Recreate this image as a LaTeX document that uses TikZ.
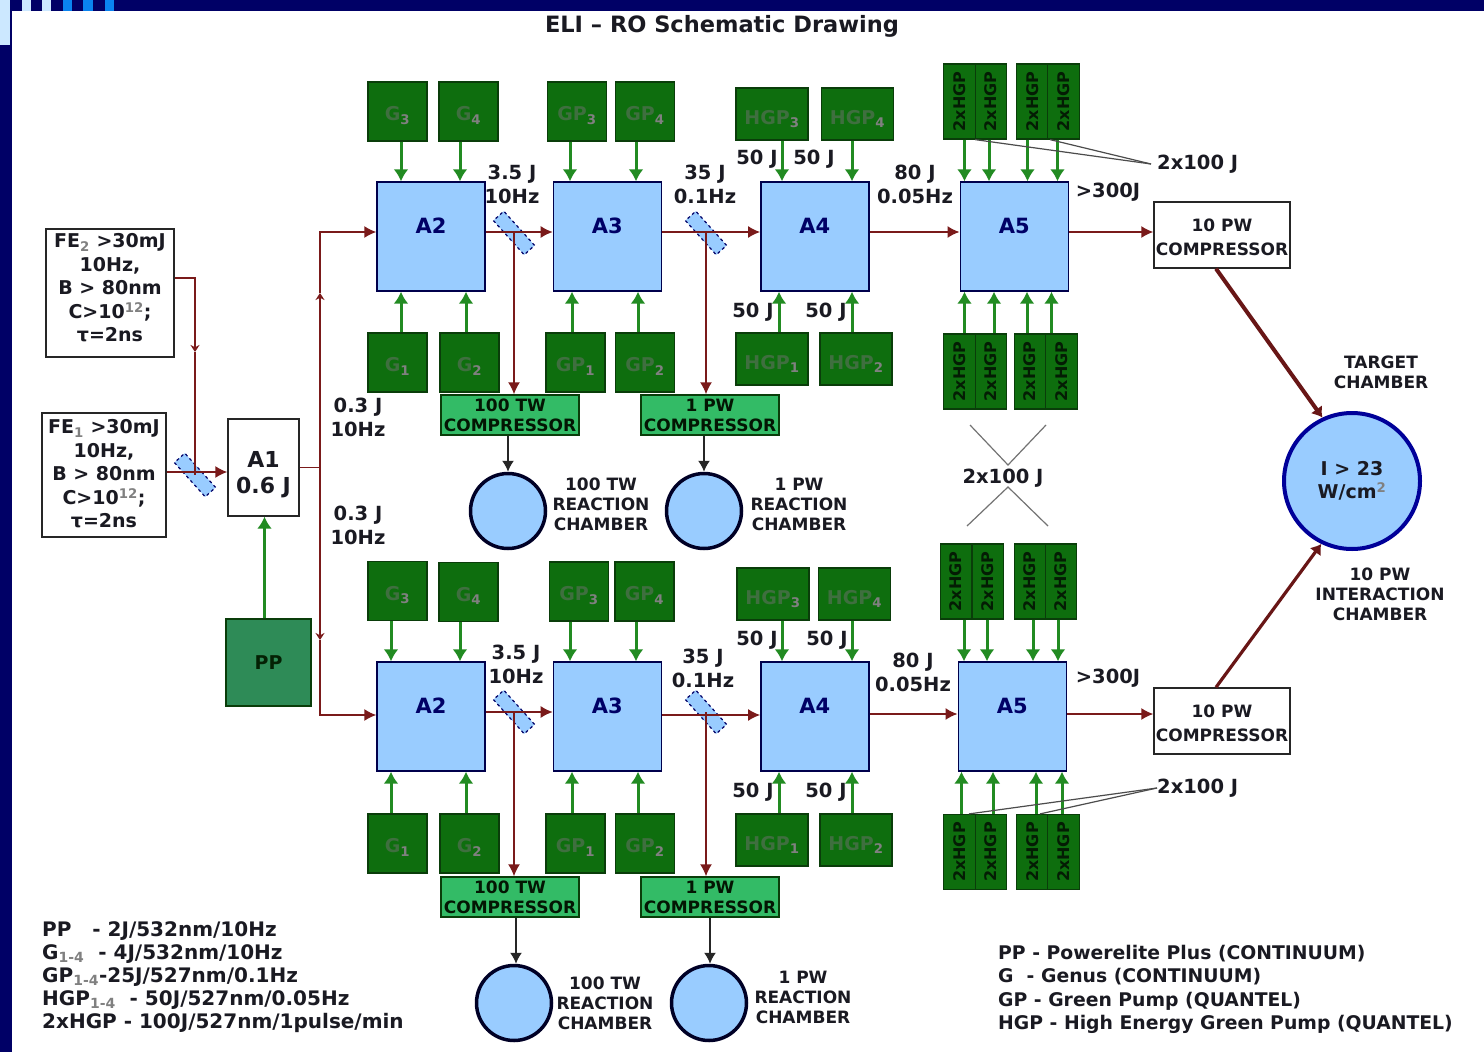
\documentclass[tikz,border=0pt]{standalone}
\usepackage{fontspec}
\setmainfont{DejaVu Sans}
\usetikzlibrary{arrows.meta,positioning,calc}
\definecolor{slidenavy}{HTML}{000066}
\definecolor{slidepale}{HTML}{CCE8FF}
\definecolor{slideblue}{HTML}{0A84F0}
\definecolor{ampblue}{HTML}{99CCFF}
\definecolor{pumpgreen}{HTML}{0E6E0E}
\definecolor{pumpedge}{HTML}{0A3D0A}
\definecolor{pumptext}{HTML}{3F6F3F}
\definecolor{beamred}{HTML}{7A1A1A}
\definecolor{pumpline}{HTML}{228B22}
\definecolor{compgreen}{HTML}{33BB66}
\definecolor{ppgreen}{HTML}{2E8B57}
\definecolor{inktext}{HTML}{1A1A22}
\newcommand{\subtxt}[1]{\textsubscript{\textcolor{gray}{#1}}}
\begin{document}
\begin{tikzpicture}[x=1pt,y=-1pt,
    amptext/.style={inner sep=0pt,text=black!60!blue,font=\fontsize{21}{24}\selectfont\bfseries,yshift=11pt},
    ampbox/.style={draw=black!70!blue,fill=ampblue,line width=1.4pt,minimum width=108pt,minimum height=109pt,
        inner sep=0pt,label={[amptext]center:#1}},
    gbox/.style={draw=pumpedge,fill=pumpgreen,line width=1.4pt,minimum width=59pt,minimum height=59pt,
        inner sep=0pt,text=pumptext,text height=18pt,text depth=0pt,font=\fontsize{19}{22}\selectfont\bfseries},
    hgpbox/.style={gbox,minimum width=72pt,minimum height=52pt,text height=20pt},
    dhgpbox/.style={draw=pumpedge,fill=pumpgreen,line width=1.2pt,minimum width=75pt,minimum height=31.5pt,
        inner sep=0pt,rotate=90,text=black!75!pumpgreen,font=\fontsize{16}{18}\selectfont\bfseries},
    febox/.style={draw=black!85,fill=white,line width=1.4pt,inner sep=0pt},
    fetext/.style={align=center,inner sep=0pt,text=inktext,font=\fontsize{19}{23.5}\selectfont\bfseries},
    compbox/.style={draw=black!85,fill=white,line width=1.4pt,minimum width=136pt,minimum height=66pt,
        align=center,inner sep=0pt,text=inktext,font=\fontsize{17}{24}\selectfont\bfseries},
    twbox/.style={draw=pumpedge,fill=compgreen,line width=1.4pt,minimum width=138pt,minimum height=40pt,
        align=center,inner sep=0pt,text=black!80!pumpgreen,font=\fontsize{17}{20}\selectfont\bfseries},
    chamber/.style={circle,draw=black!85!blue,fill=ampblue,line width=3.5pt,minimum size=75pt,inner sep=0pt},
    splitbox/.style={draw=black!60!blue,dashed,fill=ampblue,line width=1.2pt,minimum width=46pt,minimum height=14pt,
        inner sep=0pt,rotate=-48},
    txtlabel/.style={align=center,inner sep=0pt,text=inktext,font=\fontsize{19.5}{24}\selectfont\bfseries},
    onelabel/.style={txtlabel,yshift=-2pt},
    chamberlabel/.style={align=center,inner sep=0pt,text=inktext,font=\fontsize{17}{20}\selectfont\bfseries},
    legendtext/.style={align=left,anchor=north west,inner sep=0pt,text=inktext,font=\fontsize{20}{23.2}\selectfont\bfseries},
    beamline/.style={draw=beamred,line width=1.5pt},
    beamarrow/.style={beamline,-{Latex[length=12pt,width=12pt]}},
    midarrow/.style={beamline,-{Stealth[length=7pt,width=9pt]}},
    thickarrow/.style={draw=beamred!85!black,line width=4pt,-{Latex[length=10pt,width=14pt]}},
    pumparrow/.style={draw=pumpline,line width=3pt,-{Latex[length=12pt,width=15pt]}},
    blackarrow/.style={draw=black!85,line width=1.5pt,-{Latex[length=11pt,width=12pt]}},
    thinline/.style={draw=black!70,line width=1.2pt},
    crossline/.style={draw=black!55,line width=1.2pt}
]
\useasboundingbox (0,0) rectangle (1484,1052);
\fill[white] (0,0) rectangle (1484,1052);
\fill[slidenavy] (0,0) rectangle (1484,11);
\fill[slidenavy] (0,0) rectangle (12,1052);
\fill[slidepale] (0,0) rectangle (10,45);
\fill[slidepale] (22,0) rectangle (31,11);
\fill[slidepale] (42,0) rectangle (51,11);
\fill[slideblue] (63,0) rectangle (72,11);
\fill[slideblue] (83,0) rectangle (93,11);
\fill[slideblue] (105,0) rectangle (114,11);
\node[txtlabel,font=\fontsize{22.5}{26}\selectfont\bfseries] (title) at (722,26.5) {ELI -- RO Schematic Drawing};

\node[febox,minimum width=128pt,minimum height=128pt] (fe2) at (110,293) {};
\node[fetext,yshift=5pt] (fe2text) at (fe2) {FE\subtxt{2} >30mJ\\10Hz,\\B > 80nm\\C>10\textsuperscript{\textcolor{gray}{12}};\\τ=2ns};
\node[febox,minimum width=124pt,minimum height=124pt] (fe1) at (104,475) {};
\node[fetext,yshift=1pt] (fe1text) at (fe1) {FE\subtxt{1} >30mJ\\10Hz,\\B > 80nm\\C>10\textsuperscript{\textcolor{gray}{12}};\\τ=2ns};
\node[febox,minimum width=71pt,minimum height=97pt] (a1) at (263.5,467.5) {};
\node[fetext,yshift=-7pt,font=\fontsize{22}{26}\selectfont\bfseries] (a1text) at (a1) {A1\\0.6 J};
\node[draw=pumpedge,fill=ppgreen,line width=1.4pt,minimum width=85pt,minimum height=87pt,inner sep=0pt,
    text=black!70!pumpgreen,font=\fontsize{19}{22}\selectfont\bfseries] (pp) at (268.5,662.5) {PP};
\node[splitbox] (split0) at (195,475) {};
\node[txtlabel] (up03) at (358,417) {0.3 J\\10Hz};
\node[txtlabel] (down03) at (358,525) {0.3 J\\10Hz};

\node[ampbox=A2] (a2u) at (431,236.5) {};
\node[ampbox=A3,right=67pt of a2u] (a3u) {};
\node[ampbox=A4,right=98pt of a3u] (a4u) {};
\node[ampbox=A5,right=90pt of a4u] (a5u) {};
\node[ampbox=A2] (a2d) at (431,716.5) {};
\node[ampbox=A3,right=67pt of a2d] (a3d) {};
\node[ampbox=A4,right=98pt of a3d] (a4d) {};
\node[ampbox=A5,right=88pt of a4d] (a5d) {};

\node[gbox] (g3u) at (397.5,111.5) {G\subtxt{3}};
\node[gbox] (g4u) at (468.5,111.5) {G\subtxt{4}};
\node[gbox] (g1u) at (397.5,362.5) {G\subtxt{1}};
\node[gbox] (g2u) at (469.5,362.5) {G\subtxt{2}};
\node[gbox] (gp3u) at (577,111.5) {GP\subtxt{3}};
\node[gbox] (gp4u) at (645,111.5) {GP\subtxt{4}};
\node[gbox] (gp1u) at (575.5,362.5) {GP\subtxt{1}};
\node[gbox] (gp2u) at (645,362.5) {GP\subtxt{2}};
\node[hgpbox] (hgp3u) at (772,114) {HGP\subtxt{3}};
\node[hgpbox] (hgp4u) at (857.5,114) {HGP\subtxt{4}};
\node[hgpbox] (hgp1u) at (772,359) {HGP\subtxt{1}};
\node[hgpbox] (hgp2u) at (856,359) {HGP\subtxt{2}};

\node[gbox] (g3d) at (397.5,591) {G\subtxt{3}};
\node[gbox] (g4d) at (468.5,592) {G\subtxt{4}};
\node[gbox] (g1d) at (397.5,843.5) {G\subtxt{1}};
\node[gbox] (g2d) at (469.5,843.5) {G\subtxt{2}};
\node[gbox] (gp3d) at (579,591.5) {GP\subtxt{3}};
\node[gbox] (gp4d) at (644.5,591.5) {GP\subtxt{4}};
\node[gbox] (gp1d) at (575.5,843.5) {GP\subtxt{1}};
\node[gbox] (gp2d) at (645,843.5) {GP\subtxt{2}};
\node[hgpbox] (hgp3d) at (773,594) {HGP\subtxt{3}};
\node[hgpbox] (hgp4d) at (854.5,594) {HGP\subtxt{4}};
\node[hgpbox] (hgp1d) at (772,840) {HGP\subtxt{1}};
\node[hgpbox] (hgp2d) at (856,840) {HGP\subtxt{2}};

\node[dhgpbox] (d1u) at (959.5,101.5) {2xHGP};
\node[dhgpbox] (d2u) at (991,101.5) {2xHGP};
\node[dhgpbox] (d3u) at (1032.5,101.5) {2xHGP};
\node[dhgpbox] (d4u) at (1063.5,101.5) {2xHGP};
\node[dhgpbox] (d5u) at (959.5,371.5) {2xHGP};
\node[dhgpbox] (d6u) at (991,371.5) {2xHGP};
\node[dhgpbox] (d7u) at (1030,371.5) {2xHGP};
\node[dhgpbox] (d8u) at (1061.5,371.5) {2xHGP};
\node[dhgpbox] (d1d) at (956,581.5) {2xHGP};
\node[dhgpbox] (d2d) at (988,581.5) {2xHGP};
\node[dhgpbox] (d3d) at (1030,581.5) {2xHGP};
\node[dhgpbox] (d4d) at (1061,581.5) {2xHGP};
\node[dhgpbox] (d5d) at (959.5,852) {2xHGP};
\node[dhgpbox] (d6d) at (991,852) {2xHGP};
\node[dhgpbox] (d7d) at (1032.5,852) {2xHGP};
\node[dhgpbox] (d8d) at (1063.5,852) {2xHGP};

\node[splitbox] (split1u) at (514,233) {};
\node[splitbox] (split2u) at (706,233) {};
\node[splitbox] (split1d) at (514,712) {};
\node[splitbox] (split2d) at (706,712) {};
\node[twbox] (tw100u) at (510,415) {100 TW\\COMPRESSOR};
\node[twbox] (pw1u) at (710,415) {1 PW\\COMPRESSOR};
\node[twbox] (tw100d) at (510,897) {100 TW\\COMPRESSOR};
\node[twbox] (pw1d) at (710,897) {1 PW\\COMPRESSOR};
\node[chamber] (ch100u) at (508,511) {};
\node[chamber] (ch1u) at (704,511) {};
\node[chamber] (ch100d) at (514,1003) {};
\node[chamber] (ch1d) at (709,1003) {};
\node[chamberlabel] (lab100u) at (601,504) {100 TW\\REACTION\\CHAMBER};
\node[chamberlabel] (lab1u) at (799,504) {1 PW\\REACTION\\CHAMBER};
\node[chamberlabel] (lab100d) at (605,1003) {100 TW\\REACTION\\CHAMBER};
\node[chamberlabel] (lab1d) at (803,997) {1 PW\\REACTION\\CHAMBER};

\node[compbox] (pw10u) at (1222,235) {\rule{0pt}{17pt}10 PW\\COMPRESSOR};
\node[compbox] (pw10d) at (1222,721) {\rule{0pt}{17pt}10 PW\\COMPRESSOR};
\node[circle,draw=blue!60!black,fill=ampblue,line width=4pt,minimum size=136pt,inner sep=0pt,align=center,
    text=inktext,font=\fontsize{19}{23}\selectfont\bfseries] (target) at (1352,481)
    {I > 23\\W/cm\textsuperscript{\textcolor{gray}{2}}};
\node[chamberlabel] (labtarget) at (1381,372) {TARGET\\CHAMBER};
\node[chamberlabel] (labinter) at (1380,594) {10 PW\\INTERACTION\\CHAMBER};

\node[txtlabel] (e1u) at (512,184) {3.5 J\\10Hz};
\node[txtlabel] (e2u) at (705,184) {35 J\\0.1Hz};
\node[txtlabel] (e3u) at (915,184) {80 J\\0.05Hz};
\node[onelabel] (e4u) at (1108,190) {>300J};
\node[onelabel] (h3u) at (757,157) {50 J};
\node[onelabel] (h4u) at (814,157) {50 J};
\node[onelabel] (h1u) at (753,310) {50 J};
\node[onelabel] (h2u) at (826,310) {50 J};
\node[txtlabel] (e1d) at (516,664) {3.5 J\\10Hz};
\node[txtlabel] (e2d) at (703,668) {35 J\\0.1Hz};
\node[txtlabel] (e3d) at (913,672) {80 J\\0.05Hz};
\node[onelabel] (e4d) at (1108,676) {>300J};
\node[onelabel] (h3d) at (757,638) {50 J};
\node[onelabel] (h4d) at (827,638) {50 J};
\node[onelabel] (h1d) at (753,790) {50 J};
\node[onelabel] (h2d) at (826,790) {50 J};
\node[onelabel] (crosslabel) at (1003,476) {2x100 J};
\node[onelabel,anchor=west] (sum1) at (1157,162) {2x100 J};
\node[onelabel,anchor=west] (sum2) at (1157,786) {2x100 J};

\node[legendtext] (legendl) at (42,921)
    {PP \ \ - 2J/532nm/10Hz\\G\subtxt{1-4} \ - 4J/532nm/10Hz\\GP\subtxt{1-4}-25J/527nm/0.1Hz\\HGP\subtxt{1-4} \ - 50J/527nm/0.05Hz\\2xHGP - 100J/527nm/1pulse/min};
\node[legendtext,font=\fontsize{18.8}{23.5}\selectfont\bfseries] (legendr) at (998,945)
    {PP - Powerelite Plus (CONTINUUM)\\G \ - Genus (CONTINUUM)\\GP - Green Pump (QUANTEL)\\HGP - High Energy Green Pump (QUANTEL)};

\coordinate (upmid) at (320,293);
\coordinate (downmid) at (320,640);
\coordinate (fe2mid) at (195,352);
\coordinate (crossa) at (970,425);
\coordinate (crossb) at (1008,465);
\coordinate (crossc) at (1046,425);
\coordinate (crossd) at (967,526);
\coordinate (crosse) at (1008,487);
\coordinate (crossf) at (1048,526);

\draw[beamarrow] ([yshift=3pt]fe1.east)--([yshift=3pt]fe1.east -| a1.west);
\draw[midarrow] ([yshift=15pt]fe2.east)-|(fe2mid);
\draw[beamline] (fe2mid)--(split0.center);
\draw[pumparrow] ([xshift=-4pt]pp.north)--([xshift=-4pt]pp.north |- a1.south);
\draw[beamline] (a1.east)--(a1.east -| upmid);
\draw[midarrow] (a1.east -| upmid)--(upmid);
\draw[midarrow] (a1.east -| upmid)--(downmid);
\draw[beamarrow] (upmid)|-([yshift=4.5pt]a2u.west);
\draw[beamarrow] (downmid)|-([yshift=1.5pt]a2d.west);

\draw[beamarrow] ([yshift=4.5pt]a2u.east)--([yshift=4.5pt]a3u.west);
\draw[beamarrow] ([yshift=4.5pt]a3u.east)--([yshift=4.5pt]a4u.west);
\draw[beamarrow] ([yshift=4.5pt]a4u.east)--([yshift=4.5pt]a5u.west);
\draw[beamarrow] ([yshift=4.5pt]a5u.east)--([yshift=3pt]pw10u.west);
\draw[beamarrow] ([yshift=4.5pt]a2d.east)--([yshift=4.5pt]a3d.west);
\draw[beamarrow] ([yshift=1.5pt]a3d.east)--([yshift=1.5pt]a4d.west);
\draw[beamarrow] ([yshift=2.5pt]a4d.east)--([yshift=2.5pt]a5d.west);
\draw[beamarrow] ([yshift=2.5pt]a5d.east)--([yshift=7pt]pw10d.west);
\draw[beamarrow] (split1u.center)--(split1u.center |- tw100u.north);
\draw[beamarrow] (split2u.center)--(split2u.center |- pw1u.north);
\draw[beamarrow] (split1d.center)--(split1d.center |- tw100d.north);
\draw[beamarrow] (split2d.center)--(split2d.center |- pw1d.north);
\draw[blackarrow] ([xshift=-2pt]tw100u.south)--(ch100u.north);
\draw[blackarrow] ([xshift=-6pt]pw1u.south)--(ch1u.north);
\draw[blackarrow] ([xshift=6pt]tw100d.south)--([xshift=2pt]ch100d.north);
\draw[blackarrow] (pw1d.south)--([xshift=1pt]ch1d.north);
\draw[thickarrow] ([xshift=-6pt]pw10u.south)--(target.115);
\draw[thickarrow,line width=3.2pt] ([xshift=-6pt]pw10d.north)--(target.244);

\draw[pumparrow] ([xshift=3.5pt]g3u.south)--([xshift=3.5pt]g3u.south |- a2u.north);
\draw[pumparrow] ([xshift=-8.5pt]g4u.south)--([xshift=-8.5pt]g4u.south |- a2u.north);
\draw[pumparrow] ([xshift=3.5pt]g1u.north)--([xshift=3.5pt]g1u.north |- a2u.south);
\draw[pumparrow] ([xshift=-3.5pt]g2u.north)--([xshift=-3.5pt]g2u.north |- a2u.south);
\draw[pumparrow] ([xshift=-7pt]gp3u.south)--([xshift=-7pt]gp3u.south |- a3u.north);
\draw[pumparrow] ([xshift=-9pt]gp4u.south)--([xshift=-9pt]gp4u.south |- a3u.north);
\draw[pumparrow] ([xshift=-3.5pt]gp1u.north)--([xshift=-3.5pt]gp1u.north |- a3u.south);
\draw[pumparrow] ([xshift=-7pt]gp2u.north)--([xshift=-7pt]gp2u.north |- a3u.south);
\draw[pumparrow] ([xshift=10pt]hgp3u.south)--([xshift=10pt]hgp3u.south |- a4u.north);
\draw[pumparrow] ([xshift=-5.5pt]hgp4u.south)--([xshift=-5.5pt]hgp4u.south |- a4u.north);
\draw[pumparrow] ([xshift=7pt]hgp1u.north)--([xshift=7pt]hgp1u.north |- a4u.south);
\draw[pumparrow] ([xshift=-4pt]hgp2u.north)--([xshift=-4pt]hgp2u.north |- a4u.south);
\draw[pumparrow] ([xshift=5pt]d1u.west)--([xshift=5pt]d1u.west |- a5u.north);
\draw[pumparrow] ([xshift=-2pt]d2u.west)--([xshift=-2pt]d2u.west |- a5u.north);
\draw[pumparrow] ([xshift=-5pt]d3u.west)--([xshift=-5pt]d3u.west |- a5u.north);
\draw[pumparrow] ([xshift=-6pt]d4u.west)--([xshift=-6pt]d4u.west |- a5u.north);
\draw[pumparrow] ([xshift=5pt]d5u.east)--([xshift=5pt]d5u.east |- a5u.south);
\draw[pumparrow] ([xshift=3pt]d6u.east)--([xshift=3pt]d6u.east |- a5u.south);
\draw[pumparrow] ([xshift=-3pt]d7u.east)--([xshift=-3pt]d7u.east |- a5u.south);
\draw[pumparrow] ([xshift=-10pt]d8u.east)--([xshift=-10pt]d8u.east |- a5u.south);

\draw[pumparrow] ([xshift=-6.5pt]g3d.south)--([xshift=-6.5pt]g3d.south |- a2d.north);
\draw[pumparrow] ([xshift=-8.5pt]g4d.south)--([xshift=-8.5pt]g4d.south |- a2d.north);
\draw[pumparrow] ([xshift=-6.5pt]g1d.north)--([xshift=-6.5pt]g1d.north |- a2d.south);
\draw[pumparrow] ([xshift=-3.5pt]g2d.north)--([xshift=-3.5pt]g2d.north |- a2d.south);
\draw[pumparrow] ([xshift=-9pt]gp3d.south)--([xshift=-9pt]gp3d.south |- a3d.north);
\draw[pumparrow] ([xshift=-8.5pt]gp4d.south)--([xshift=-8.5pt]gp4d.south |- a3d.north);
\draw[pumparrow] ([xshift=-3.5pt]gp1d.north)--([xshift=-3.5pt]gp1d.north |- a3d.south);
\draw[pumparrow] ([xshift=-7pt]gp2d.north)--([xshift=-7pt]gp2d.north |- a3d.south);
\draw[pumparrow] ([xshift=9pt]hgp3d.south)--([xshift=9pt]hgp3d.south |- a4d.north);
\draw[pumparrow] ([xshift=-2.5pt]hgp4d.south)--([xshift=-2.5pt]hgp4d.south |- a4d.north);
\draw[pumparrow] ([xshift=7pt]hgp1d.north)--([xshift=7pt]hgp1d.north |- a4d.south);
\draw[pumparrow] ([xshift=-4pt]hgp2d.north)--([xshift=-4pt]hgp2d.north |- a4d.south);
\draw[pumparrow] ([xshift=8pt]d1d.west)--([xshift=8pt]d1d.west |- a5d.north);
\draw[pumparrow] ([xshift=-1pt]d2d.west)--([xshift=-1pt]d2d.west |- a5d.north);
\draw[pumparrow] ([xshift=3pt]d3d.west)--([xshift=3pt]d3d.west |- a5d.north);
\draw[pumparrow] ([xshift=-3pt]d4d.west)--([xshift=-3pt]d4d.west |- a5d.north);
\draw[pumparrow] ([xshift=2pt]d5d.east)--([xshift=2pt]d5d.east |- a5d.south);
\draw[pumparrow] ([xshift=2pt]d6d.east)--([xshift=2pt]d6d.east |- a5d.south);
\draw[pumparrow] ([xshift=3.5pt]d7d.east)--([xshift=3.5pt]d7d.east |- a5d.south);
\draw[pumparrow] ([xshift=-1.5pt]d8d.east)--([xshift=-1.5pt]d8d.east |- a5d.south);

\draw[thinline] ([xshift=15.5pt]d1u.west)--([xshift=-6pt]sum1.west);
\draw[thinline] ([xshift=-13.5pt]d4u.west)--([xshift=-6pt]sum1.west);
\draw[thinline] ([xshift=9.5pt]d5d.east)--(sum2.west);
\draw[thinline] ([xshift=7.5pt]d7d.east)--(sum2.west);
\draw[crossline] (crossa)--(crossb)--(crossc);
\draw[crossline] (crossd)--(crosse)--(crossf);
\end{tikzpicture}
\end{document}
